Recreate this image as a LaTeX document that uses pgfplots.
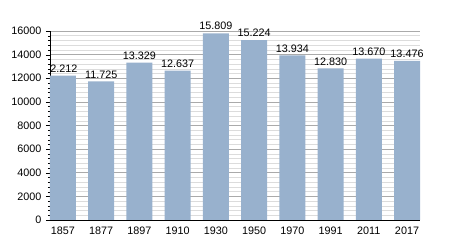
\documentclass[border=0pt]{standalone}
\usepackage{pgfplots}
\pgfplotsset{compat=1.18}
\usepackage{fontspec}
\setmainfont{Liberation Sans}
\definecolor{barblue}{RGB}{152,177,205}
\definecolor{majgrid}{RGB}{170,170,170}
\definecolor{mingrid}{RGB}{220,220,220}
\begin{document}
\begin{tikzpicture}
\path[use as bounding box] (0,0) rectangle (450bp,250bp);
\begin{axis}[
  at={(50bp,30bp)}, anchor=south west,
  scale only axis, width=370bp, height=189bp,
  xmin=-0.34, xmax=9.34, ymin=0, ymax=16000,
  axis x line*=bottom, axis y line*=left,
  axis line style={-, black},
  xtick={0,...,9},
  xticklabels={1857,1877,1897,1910,1930,1950,1970,1991,2011,2017},
  x tick style={draw=none},
  ytick={0,2000,...,16000},
  scaled y ticks=false,
  yticklabel style={/pgf/number format/fixed, /pgf/number format/1000 sep={}},
  minor y tick num=4,
  ymajorgrids, yminorgrids,
  major grid style={majgrid, line width=0.6pt},
  minor grid style={mingrid, line width=0.5pt},
  tick align=outside,
  major tick length=4bp, minor tick length=2bp,
  y tick style={black},
  /pgf/number format/assume math mode=true,
  tick label style={font=\fontsize{10.8bp}{13bp}\selectfont},
  xticklabel style={yshift=1bp},
  yticklabel style={xshift=-1bp},
  ybar, bar width=0.68,
  nodes near coords,
  point meta=explicit symbolic,
  every node near coord/.append style={font=\fontsize{10.8bp}{13bp}\selectfont, black, inner sep=3bp},
]
\addplot[fill=barblue, draw=none] table[meta=label] {
x y label
0 12212 \hspace{2bp}2.212
1 11725 11.725
2 13329 13.329
3 12637 12.637
4 15809 15.809
5 15224 15.224
6 13934 13.934
7 12830 12.830
8 13670 13.670
9 13476 13.476
};
\end{axis}
\end{tikzpicture}
\end{document}
